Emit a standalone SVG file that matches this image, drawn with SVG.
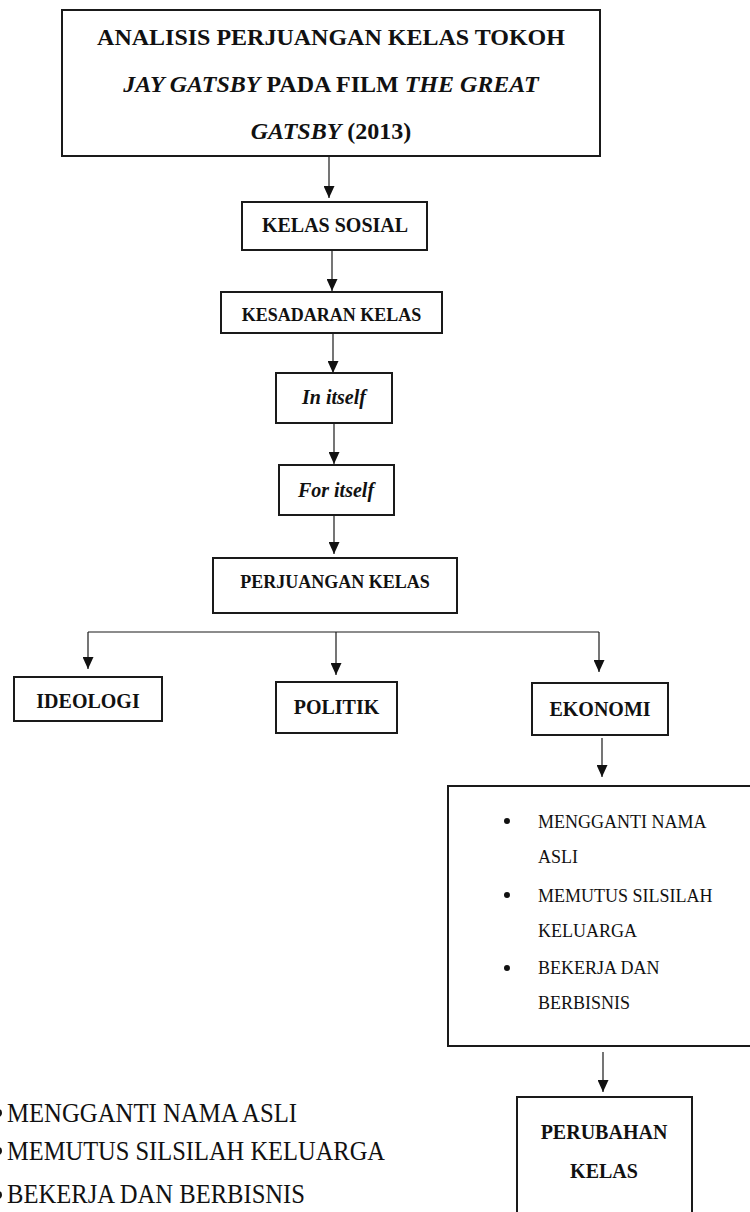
<svg xmlns="http://www.w3.org/2000/svg" width="750" height="1212" viewBox="0 0 750 1212">
<style>
.box{fill:#fff;stroke:#1a1a1a;stroke-width:2}
.t{font-family:"Liberation Serif","Times New Roman",serif;fill:#111;text-anchor:middle}
.b{font-weight:bold}
.i{font-style:italic}
.r{font-family:"Liberation Serif","Times New Roman",serif;fill:#111}
.c{fill:none;stroke:#1a1a1a;stroke-width:1.2}
</style>
<defs>
<marker id="ah" viewBox="0 0 12 11" refX="12" refY="5.5" markerWidth="12" markerHeight="11" orient="auto" markerUnits="userSpaceOnUse">
<path d="M0,0 L12,5.5 L0,11 z" fill="#111"/>
</marker>
</defs>
<rect width="750" height="1212" fill="#fff"/>
<g id="connectors">
<line class="c" x1="329" y1="157" x2="329" y2="198" marker-end="url(#ah)"/>
<line class="c" x1="332" y1="251" x2="332" y2="291" marker-end="url(#ah)"/>
<line class="c" x1="333" y1="334" x2="333" y2="373" marker-end="url(#ah)"/>
<line class="c" x1="334" y1="424" x2="334" y2="464" marker-end="url(#ah)"/>
<line class="c" x1="334" y1="516" x2="334" y2="554" marker-end="url(#ah)"/>
<line class="c" x1="88" y1="632" x2="599" y2="632"/>
<line class="c" x1="88" y1="632" x2="88" y2="669" marker-end="url(#ah)"/>
<line class="c" x1="336" y1="632" x2="336" y2="675" marker-end="url(#ah)"/>
<line class="c" x1="599" y1="632" x2="599" y2="672" marker-end="url(#ah)"/>
<line class="c" x1="602" y1="738" x2="602" y2="777" marker-end="url(#ah)"/>
<line class="c" x1="603" y1="1052" x2="603" y2="1092" marker-end="url(#ah)"/>
</g>
<g id="title">
<rect class="box" x="62" y="10" width="538" height="146"/>
<text class="t b" x="331" y="45" font-size="24">ANALISIS PERJUANGAN KELAS TOKOH</text>
<text class="t b" x="331" y="92" font-size="24"><tspan class="i">JAY GATSBY</tspan> PADA FILM <tspan class="i">THE GREAT</tspan></text>
<text class="t b" x="331" y="139" font-size="24"><tspan class="i">GATSBY</tspan> (2013)</text>
</g>
<g id="kelas-sosial">
<rect class="box" x="242" y="202" width="185" height="48"/>
<text class="t b" x="335" y="232" font-size="20">KELAS SOSIAL</text>
</g>
<g id="kesadaran-kelas">
<rect class="box" x="221" y="292" width="221" height="41"/>
<text class="t b" x="331.5" y="321" font-size="18">KESADARAN KELAS</text>
</g>
<g id="in-itself">
<rect class="box" x="276" y="373" width="116" height="50"/>
<text class="t b i" x="334" y="404" font-size="20">In itself</text>
</g>
<g id="for-itself">
<rect class="box" x="279" y="465" width="115" height="50"/>
<text class="t b i" x="336" y="497" font-size="20">For itself</text>
</g>
<g id="perjuangan-kelas">
<rect class="box" x="213" y="558" width="244" height="55"/>
<text class="t b" x="335" y="588" font-size="18">PERJUANGAN KELAS</text>
</g>
<g id="ideologi">
<rect class="box" x="14" y="677" width="148" height="44"/>
<text class="t b" x="88" y="708" font-size="20">IDEOLOGI</text>
</g>
<g id="politik">
<rect class="box" x="276" y="682" width="121" height="51"/>
<text class="t b" x="336.5" y="714" font-size="20">POLITIK</text>
</g>
<g id="ekonomi">
<rect class="box" x="532" y="683" width="136" height="52"/>
<text class="t b" x="600" y="716" font-size="20">EKONOMI</text>
</g>
<g id="bullet-box">
<rect class="box" x="448" y="786" width="320" height="260"/>
<circle cx="507" cy="821" r="3" fill="#111"/>
<circle cx="507" cy="895" r="3" fill="#111"/>
<circle cx="507" cy="968" r="3" fill="#111"/>
<text class="r" x="538" y="828" font-size="18">MENGGANTI NAMA</text>
<text class="r" x="538" y="863" font-size="18">ASLI</text>
<text class="r" x="538" y="902" font-size="18">MEMUTUS SILSILAH</text>
<text class="r" x="538" y="937" font-size="18">KELUARGA</text>
<text class="r" x="538" y="974" font-size="18">BEKERJA DAN</text>
<text class="r" x="538" y="1009" font-size="18">BERBISNIS</text>
</g>
<g id="perubahan-kelas">
<rect class="box" x="517" y="1097" width="175" height="140"/>
<text class="t b" x="604" y="1139" font-size="20">PERUBAHAN</text>
<text class="t b" x="604" y="1178" font-size="20">KELAS</text>
</g>
<g id="left-list">
<circle cx="-2" cy="1113" r="4" fill="#111"/>
<circle cx="-2" cy="1151" r="4" fill="#111"/>
<circle cx="-2" cy="1195" r="4" fill="#111"/>
<text class="r" x="7" y="1122" font-size="27" textLength="290" lengthAdjust="spacingAndGlyphs">MENGGANTI NAMA ASLI</text>
<text class="r" x="7" y="1160" font-size="27" textLength="378" lengthAdjust="spacingAndGlyphs">MEMUTUS SILSILAH KELUARGA</text>
<text class="r" x="7" y="1203" font-size="27" textLength="298" lengthAdjust="spacingAndGlyphs">BEKERJA DAN BERBISNIS</text>
</g>
</svg>
